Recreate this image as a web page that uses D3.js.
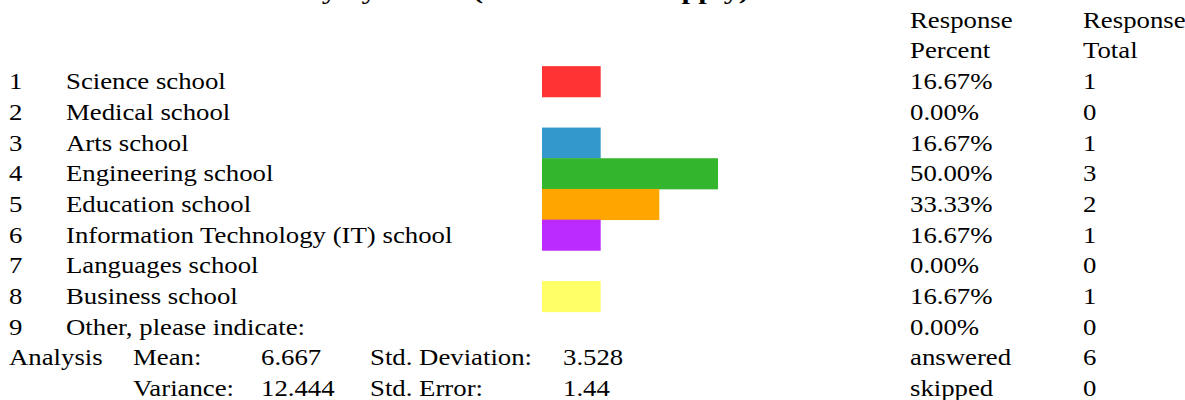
<!DOCTYPE html>
<html>
<head>
<meta charset="utf-8">
<script src="https://cdn.jsdelivr.net/npm/d3@7"></script>
<style>
  html, body { margin: 0; padding: 0; background: #fff; overflow: hidden; }
  svg { display: block; }
  text { font-family: "Liberation Serif", "Times New Roman", Times, serif; fill: #000; }
</style>
</head>
<body>
<script>
// ---- data ----
const title = "Faculty by school (Select all that apply)";
const headerPercent = ["Response", "Percent"];
const headerTotal = ["Response", "Total"];
const categories = [
  "Science school", "Medical school", "Arts school", "Engineering school",
  "Education school", "Information Technology (IT) school", "Languages school",
  "Business school", "Other, please indicate:"
];
const percents = [16.67, 0.00, 16.67, 50.00, 33.33, 16.67, 0.00, 16.67, 0.00];
const totals = [1, 0, 1, 3, 2, 1, 0, 1, 0];
const barColors = ["#ff3333", "#ff3333", "#3399cc", "#33b52d", "#ffa500", "#bb2bff", "#999999", "#ffff66", "#999999"];
const statLabelsA = ["Mean:", "Variance:"];
const statValuesA = ["6.667", "12.444"];
const statLabelsB = ["Std. Deviation:", "Std. Error:"];
const statValuesB = ["3.528", "1.44"];
const summaryLabels = ["answered", "skipped"];
const summaryValues = [6, 0];

// ---- layout ----
const W = 1185, H = 400;
const fontSize = 22.5, sx = 1.19;
const svg = d3.select("body").append("svg").attr("width", W).attr("height", H);

const rowIdx = d3.range(-2, 11);
const step = 30.7;
const y = d3.scaleBand().domain(rowIdx).range([66.15 - 2 * step, 66.15 + 11 * step]).paddingInner(0).paddingOuter(0);
const baseline = i => y(i) + y.bandwidth() / 2 + 7.6;

const x = d3.scaleLinear().domain([0, 100]).range([542, 894]);

const col = { num: 9, label: 66, pct: 910, tot: 1083, statA: 133, statAv: 261, statB: 370, statBv: 563 };

function txt(g, s, xx, yy, opts = {}) {
  return g.append("text")
    .attr("transform", `translate(${xx},${yy}) scale(${opts.sx || sx},1)`)
    .attr("font-size", opts.size || fontSize)
    .attr("font-weight", opts.weight || "normal")
    .text(s);
}

// title (clipped at top, as in the reference)
svg.append("text")
  .attr("x", 239).attr("y", -1)
  .attr("font-size", 22).attr("font-weight", "bold")
  .attr("textLength", 510).attr("lengthAdjust", "spacingAndGlyphs")
  .text(title);

// headers
const g = svg.append("g");
headerPercent.forEach((h, k) => txt(g, h, col.pct, baseline(-2 + k)));
headerTotal.forEach((h, k) => txt(g, h, col.tot, baseline(-2 + k)));

// bars
svg.append("g").selectAll("rect")
  .data(percents.map((p, i) => ({ p, i })).filter(d => d.p > 0))
  .join("rect")
  .attr("x", x(0))
  .attr("y", d => y(d.i))
  .attr("width", d => x(d.p) - x(0))
  .attr("height", y.bandwidth() + 0.4)
  .attr("fill", d => barColors[d.i]);

// rows
categories.forEach((c, i) => {
  txt(g, String(i + 1), col.num, baseline(i));
  txt(g, c, col.label, baseline(i));
  txt(g, percents[i].toFixed(2) + "%", col.pct, baseline(i));
  txt(g, String(totals[i]), col.tot, baseline(i));
});

// analysis
txt(g, "Analysis", col.num, baseline(9));
statLabelsA.forEach((s, k) => {
  const r = 9 + k;
  txt(g, s, col.statA, baseline(r));
  txt(g, statValuesA[k], col.statAv, baseline(r));
  txt(g, statLabelsB[k], col.statB, baseline(r));
  txt(g, statValuesB[k], col.statBv, baseline(r));
  txt(g, summaryLabels[k], col.pct, baseline(r));
  txt(g, String(summaryValues[k]), col.tot, baseline(r));
});
</script>
</body>
</html>
